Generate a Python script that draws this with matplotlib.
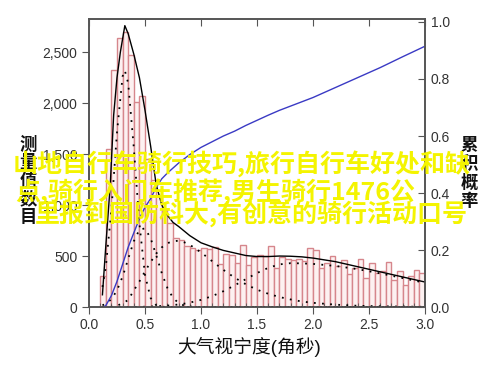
import matplotlib
matplotlib.use("Agg")
import matplotlib.pyplot as plt
from matplotlib.ticker import FuncFormatter, MultipleLocator

plt.rcParams['font.family'] = ['Liberation Sans', 'Noto Sans CJK SC', 'DejaVu Sans']

# histogram (bin left edge, count), bin width 0.05
bin_left = [0.10, 0.15, 0.20, 0.25, 0.30, 0.35, 0.40, 0.45, 0.50, 0.55,
            0.60, 0.65, 0.70, 0.75, 0.80, 0.85, 0.90, 0.95, 1.00, 1.05,
            1.10, 1.15, 1.20, 1.25, 1.30, 1.35, 1.40, 1.45, 1.50, 1.55,
            1.60, 1.65, 1.70, 1.75, 1.80, 1.85, 1.90, 1.95, 2.00, 2.05,
            2.10, 2.15, 2.20, 2.25, 2.30, 2.35, 2.40, 2.45, 2.50, 2.55,
            2.60, 2.65, 2.70, 2.75, 2.80, 2.85, 2.90, 2.95]
counts = [300, 1550, 2320, 2640, 2700, 2470, 2010, 2070, 1450, 1250,
          1100, 950, 820, 680, 660, 600, 580, 560, 580, 565,
          590, 420, 520, 515, 430, 608, 415, 490, 510, 500,
          598, 382, 490, 470, 460, 470, 450, 575, 558, 382,
          430, 500, 400, 460, 323, 380, 470, 284, 431, 333,
          350, 441, 265, 353, 216, 300, 363, 330]

# total fit (solid black)
fit_x = [0.12, 0.15, 0.19, 0.22, 0.25, 0.28, 0.32, 0.35, 0.40, 0.45, 0.50, 0.55,
         0.60, 0.65, 0.70, 0.75, 0.80, 0.90, 1.00, 1.10, 1.20, 1.30, 1.40, 1.50,
         1.60, 1.70, 1.80, 1.90, 2.00, 2.20, 2.40, 2.60, 2.80, 3.00]
fit_total = [120, 600, 1200, 1880, 2250, 2500, 2760, 2680, 2480, 2250, 1930, 1580,
             1200, 1000, 900, 830, 790, 700, 630, 590, 555, 530, 505, 495,
             495, 500, 498, 492, 480, 445, 395, 345, 295, 245]

# fit components (dotted)
comp_x = [0.12, 0.15, 0.20, 0.25, 0.30, 0.32, 0.35, 0.40, 0.45, 0.50, 0.55, 0.60,
          0.65, 0.70, 0.75, 0.80, 0.85, 0.90, 1.00, 1.10, 1.20, 1.30, 1.40, 1.50,
          1.60, 1.70, 1.80, 1.90, 2.00, 2.20, 2.40, 2.60, 2.80, 3.00]
comp1 = [197, 390, 953, 1715, 2263, 2320, 2195, 1563, 817, 314, 89, 18,
         3, 0, 0, 0, 0, 0, 0, 0, 0, 0, 0, 0,
         0, 0, 0, 0, 0, 0, 0, 0, 0, 0]
comp2 = [17, 31, 77, 163, 299, 366, 473, 645, 759, 771, 675, 509,
         332, 186, 90, 38, 14, 4, 0, 0, 0, 0, 0, 0,
         0, 0, 0, 0, 0, 0, 0, 0, 0, 0]
comp3 = [0, 0, 2, 12, 37, 48, 70, 162, 250, 350, 440, 524,
         585, 626, 645, 650, 635, 610, 536, 449, 364, 288, 223, 170,
         130, 98, 74, 54, 41, 23, 12, 7, 4, 2]
comp4 = [0, 0, 0, 0, 0, 0, 0, 0, 0, 3, 5, 7,
         10, 14, 19, 25, 33, 43, 70, 107, 155, 212, 273, 333,
         384, 418, 430, 428, 423, 403, 371, 330, 284, 237]

# cumulative probability (blue, right axis)
cum_x = [0.13, 0.15, 0.20, 0.25, 0.30, 0.35, 0.40, 0.45, 0.50, 0.55, 0.60, 0.65,
         0.70, 0.80, 0.90, 1.00, 1.10, 1.20, 1.30, 1.40, 1.50, 1.60, 1.70, 1.80,
         1.90, 2.00, 2.20, 2.40, 2.60, 2.80, 3.00]
cum_p = [0.0, 0.005, 0.04, 0.09, 0.15, 0.21, 0.26, 0.31, 0.35, 0.38, 0.42, 0.45,
         0.47, 0.505, 0.535, 0.56, 0.58, 0.60, 0.617, 0.637, 0.655, 0.673, 0.69, 0.705,
         0.72, 0.735, 0.77, 0.805, 0.84, 0.878, 0.915]

overlay_lines = ["山地自行车骑行技巧,旅行自行车好处和缺",
                 "点,骑行入门车推荐,男生骑行1476公",
                 "里报到国防科大,有创意的骑行活动口号"]

spine_col = '#555555'
tick_col = '#333333'

fig = plt.figure(figsize=(5, 3.69), dpi=100)
ax = fig.add_axes([0.178, 0.168, 0.672, 0.7805])

ax.bar(bin_left, counts, width=0.05, align='edge', facecolor='#fdf1f1',
       edgecolor='#d6868c', linewidth=1.0, zorder=1)
ax.plot(fit_x, fit_total, color='black', lw=1.0, zorder=3)
for c in (comp1, comp2, comp3, comp4):
    ax.plot(comp_x, c, color='black', lw=1.3, linestyle=(0, (1, 3.5)), zorder=3)

ax.set_xlim(0, 3.0)
ax.set_ylim(0, 2825)
ax.xaxis.set_major_locator(MultipleLocator(0.5))
ax.xaxis.set_minor_locator(MultipleLocator(0.1))
ax.yaxis.set_major_locator(MultipleLocator(500))
ax.xaxis.set_major_formatter(FuncFormatter(lambda v, p: f"{v:.1f}"))
ax.yaxis.set_major_formatter(FuncFormatter(lambda v, p: f"{int(v):,}"))
ax.tick_params(axis='x', which='major', direction='out', length=5, color=spine_col,
               labelsize=10, labelcolor=tick_col, pad=3)
ax.tick_params(axis='x', which='minor', direction='in', length=3, color=spine_col)
ax.tick_params(axis='y', direction='out', length=5, color=spine_col,
               labelsize=10, labelcolor=tick_col)

top = ax.secondary_xaxis('top')
top.xaxis.set_major_locator(MultipleLocator(0.5))
top.tick_params(direction='in', length=5, color=spine_col, labeltop=False)

ax2 = ax.twinx()
ax2.plot(cum_x, cum_p, color='#3a3ac4', lw=1.0)
ax2.set_ylim(0, 1.0105)
ax2.yaxis.set_major_locator(MultipleLocator(0.2))
ax2.yaxis.set_major_formatter(FuncFormatter(lambda v, p: f"{v:.1f}"))
ax2.tick_params(axis='y', direction='in', length=5, color=spine_col,
                labelsize=10, labelcolor=tick_col, pad=4)

for a in (ax, ax2):
    for s in a.spines.values():
        s.set_color(spine_col)
        s.set_linewidth(1.2)
top.spines['top'].set_visible(False)

fig.text(0.056, 0.512, "测\n量\n值\n数\n目", ha='center', va='center',
         fontsize=12.5, fontweight='bold', linespacing=1.12, color='#111111')
fig.text(0.938, 0.531, "累\n积\n概\n率", ha='center', va='center',
         fontsize=12.5, fontweight='bold', linespacing=1.12, color='#111111')
fig.text(0.498, 0.06, "大气视宁度(角秒)", ha='center', va='center',
         fontsize=13.5, color='#111111')

line_x = [0.026, 0.030, 0.070]
line_y = [0.558, 0.480, 0.420]
for txt, lx, ly in zip(overlay_lines, line_x, line_y):
    fig.text(lx, ly, txt, ha='left', va='center', fontsize=18, fontweight='bold',
             color='#f4f400', family=['Noto Sans CJK SC', 'DejaVu Sans'], zorder=10)

fig.savefig("out.png", dpi=100)
